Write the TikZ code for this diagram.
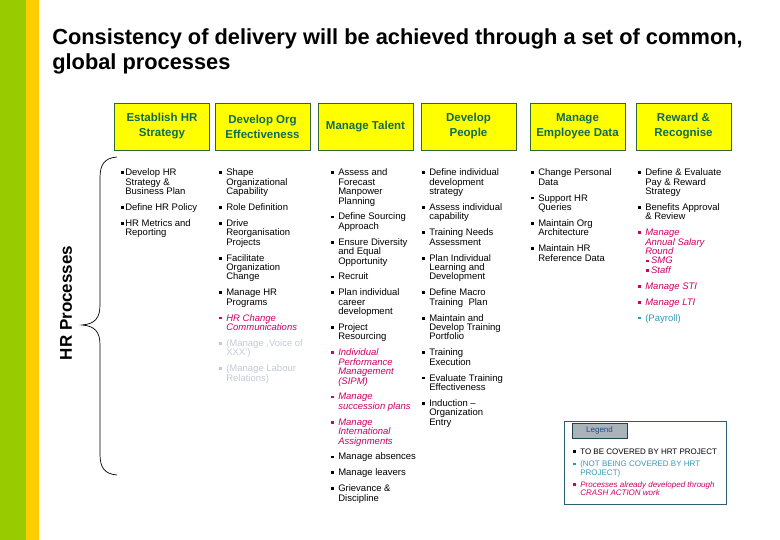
\documentclass[tikz,border=0pt]{standalone}
\usepackage{fontspec}
\usepackage{array}
\setmainfont{Liberation Sans}
\definecolor{bargreen}{HTML}{99CC00}
\definecolor{baryellow}{HTML}{FFCC00}
\definecolor{headfill}{HTML}{FFFF00}
\definecolor{headline}{HTML}{336633}
\definecolor{headtext}{HTML}{0F6B55}
\definecolor{crashpink}{HTML}{CC0066}
\definecolor{fadegray}{HTML}{C5C9D6}
\definecolor{notteal}{HTML}{3399B8}
\definecolor{legline}{HTML}{2B6070}
\definecolor{legfill}{HTML}{A9B3BA}
\definecolor{legtext}{HTML}{1F4E8C}

% bullet square + item with its own line breaks
\setlength{\lineskip}{0pt}
\setlength{\extrarowheight}{1.4pt}
\newcommand{\hrsq}{\rule[1.6pt]{2.8pt}{2.8pt}}
\newcommand{\hritem}[2][7pt]{\makebox[#1][l]{\hrsq}\begin{tabular}[t]{@{}l@{}}#2\end{tabular}}
\newcommand{\crashitem}[1]{{\color{crashpink}\itshape\hritem{#1}}}
\newcommand{\fadeitem}[1]{{\color{fadegray}\hritem{#1}}}
\newcommand{\notitem}[1]{{\color{notteal}\hritem{#1}}}
\newcommand{\subsq}{\hspace{0.5pt}\hrsq\hspace{2.5pt}}

\begin{document}
\begin{tikzpicture}[
    x=1pt, y=-1pt,
    line width=0.6pt,
    every node/.style={inner sep=0pt},
    hrhead/.style={draw=headline, fill=headfill, line width=0.8pt,
      minimum width=95pt, minimum height=47pt, align=center,
      text=headtext, font=\fontsize{11.5}{15}\selectfont\bfseries},
    hrlist/.style={anchor=north west, align=left,
      font=\fontsize{9.5}{8}\selectfont},
    leglist/.style={anchor=north west, align=left,
      font=\fontsize{8}{6.8}\selectfont},
  ]
  \useasboundingbox (0,0) rectangle (780,540);

  % ---------- Side bars -----------------------------------------------------
  \fill[bargreen] (0,0) rectangle (26,540);
  \fill[baryellow] (26,0) rectangle (39,540);

  % ---------- Title ---------------------------------------------------------
  \node[anchor=north west, align=left, font=\fontsize{21.8}{24.5}\selectfont\bfseries]
    (title) at (52,28.5) {Consistency of delivery will be achieved through a set of common,\\
      global processes};

  % ---------- Brace + side label --------------------------------------------
  \draw[line width=0.7pt] (117,157) .. controls (104,158) and (100,165) .. (100,178)
    -- (100,305) .. controls (100,318) and (95,324) .. (82,325)
    .. controls (95,326) and (100,332) .. (100,345)
    -- (100,454) .. controls (100,467) and (104,474) .. (117,475);
  \node[rotate=90, font=\fontsize{17}{17}\selectfont\bfseries] (hrproc)
    at (66,303) {HR Processes};

  % ---------- Process headers (y 103 -> 150) --------------------------------
  \node[hrhead] (strat) at (162,126.5) {Establish HR\\Strategy};
  \node[hrhead] (orgeff) at (262.5,126.5) {Develop Org\\Effectiveness};
  \node[hrhead] (talent) at (365.5,126.5) {Manage Talent};
  \node[hrhead] (people) at (468.5,126.5) {Develop\\People};
  \node[hrhead] (empdata) at (577.5,126.5) {Manage\\Employee Data};
  \node[hrhead] (reward) at (683.5,126.5) {Reward \&\\Recognise};

  % ---------- Process lists (first baseline ~175.5, row pitch 9.4) ----------
  \node[hrlist] (strat-list) at (121,168.5) {%
    \hritem[4pt]{Develop HR\\Strategy \&\\Business Plan}\\[6.5pt]
    \hritem[4pt]{Define HR Policy}\\[6.5pt]
    \hritem[4pt]{HR Metrics and\\Reporting}};

  \node[hrlist] (orgeff-list) at (219,168.5) {%
    \hritem{Shape\\Organizational\\Capability}\\[6.5pt]
    \hritem{Role Definition}\\[6.5pt]
    \hritem{Drive\\Reorganisation\\Projects}\\[6.5pt]
    \hritem{Facilitate\\Organization\\Change}\\[6.5pt]
    \hritem{Manage HR\\Programs}\\[6.5pt]
    \crashitem{HR Change\\Communications}\\[6.5pt]
    \fadeitem{(Manage ,Voice of\\XXX')}\\[6.5pt]
    \fadeitem{(Manage Labour\\Relations)}};

  \node[hrlist] (talent-list) at (331,168.5) {%
    \hritem{Assess and\\Forecast\\Manpower\\Planning}\\[6.5pt]
    \hritem{Define Sourcing\\Approach}\\[6.5pt]
    \hritem{Ensure Diversity\\and Equal\\Opportunity}\\[6.5pt]
    \hritem{Recruit}\\[6.5pt]
    \hritem{Plan individual\\career\\development}\\[6.5pt]
    \hritem{Project\\Resourcing}\\[6.5pt]
    \crashitem{Individual\\Performance\\Management\\(SIPM)}\\[6.5pt]
    \crashitem{Manage\\succession plans}\\[6.5pt]
    \crashitem{Manage\\International\\Assignments}\\[6.5pt]
    \hritem{Manage absences}\\[6.5pt]
    \hritem{Manage leavers}\\[6.5pt]
    \hritem{Grievance \&\\Discipline}};

  \node[hrlist] (people-list) at (422,168.5) {%
    \hritem{Define individual\\development\\strategy}\\[6.5pt]
    \hritem{Assess individual\\capability}\\[6.5pt]
    \hritem{Training Needs\\Assessment}\\[6.5pt]
    \hritem{Plan Individual\\Learning and\\Development}\\[6.5pt]
    \hritem{Define Macro\\Training\ \ Plan}\\[6.5pt]
    \hritem{Maintain and\\Develop Training\\Portfolio}\\[6.5pt]
    \hritem{Training\\Execution}\\[6.5pt]
    \hritem{Evaluate Training\\Effectiveness}\\[6.5pt]
    \hritem{Induction --\\Organization\\Entry}};

  \node[hrlist] (empdata-list) at (531,168.5) {%
    \hritem{Change Personal\\Data}\\[6.5pt]
    \hritem{Support HR\\Queries}\\[6.5pt]
    \hritem{Maintain Org\\Architecture}\\[6.5pt]
    \hritem{Maintain HR\\Reference Data}};

  \node[hrlist] (reward-list) at (638,168.5) {%
    \hritem{Define \& Evaluate\\Pay \& Reward\\Strategy}\\[6.5pt]
    \hritem{Benefits Approval\\\& Review}\\[6.5pt]
    \crashitem{Manage\\Annual Salary\\Round\\\subsq SMG\\\subsq Staff}\\[6.5pt]
    \crashitem{Manage STI}\\[6.5pt]
    \crashitem{Manage LTI}\\[6.5pt]
    \notitem{(Payroll)}};

  % ---------- Legend (564,421) -> (726,504) ---------------------------------
  \draw[draw=legline, line width=0.7pt] (564,421) rectangle (726,504);
  \node[draw=legline!70!black, fill=legfill, line width=0.6pt, minimum width=55pt,
    minimum height=15pt, text=legtext, font=\fontsize{8}{8}\selectfont]
    (legend-tag) at (599.5,430.5) {Legend};
  \node[leglist] (legend-list) at (573,448) {%
    \hritem{TO BE COVERED BY HRT PROJECT}\\[4.3pt]
    \notitem{(NOT BEING COVERED BY HRT\\PROJECT)}\\[4.3pt]
    \crashitem{Processes already developed through\\CRASH ACTION work}};

\end{tikzpicture}
\end{document}
